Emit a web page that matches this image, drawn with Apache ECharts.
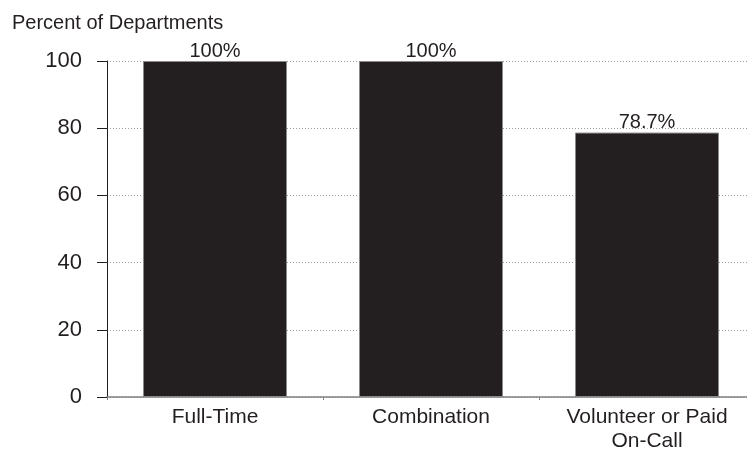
<!DOCTYPE html>
<html>
<head>
<meta charset="utf-8">
<script src="https://cdn.jsdelivr.net/npm/echarts@6/dist/echarts.min.js"></script>
<style>
  html, body { margin: 0; padding: 0; background: #fff; overflow: hidden; }
  #frame { width: 747px; height: 453px; overflow: hidden; }
  /* the plot runs a little past the right edge of the visible frame */
  #chart { width: 755px; height: 453px; }
</style>
</head>
<body>
<div id="frame"><div id="chart"></div></div>
<script>
// Share of departments by department type
const categories = ['Full-Time', 'Combination', 'Volunteer or Paid\nOn-Call'];
const percentValues = [100, 100, 78.7];
const yTicks = [0, 20, 40, 60, 80, 100];

const textColor = '#231f20';
const fontFamily = 'Liberation Sans, Arial, sans-serif';

const chart = echarts.init(document.getElementById('chart'), null, { renderer: 'canvas' });

chart.setOption({
  animation: false,
  backgroundColor: '#ffffff',
  title: {
    text: 'Percent of Departments',
    left: 7,
    top: 8,
    textStyle: { fontFamily, fontSize: 20, fontWeight: 'normal', color: textColor }
  },
  grid: { left: 107, top: 61, right: 0, bottom: 56, containLabel: false },
  xAxis: {
    type: 'category',
    data: categories,
    axisLine: { show: true, lineStyle: { color: '#808080', width: 1.5 } },
    axisTick: { show: true, alignWithLabel: false, length: 3, lineStyle: { color: '#808080' } },
    axisLabel: {
      fontFamily, fontSize: 21, color: textColor, margin: 8, lineHeight: 24, interval: 0
    },
    splitLine: { show: false }
  },
  yAxis: {
    type: 'value',
    min: yTicks[0],
    max: yTicks[yTicks.length - 1],
    interval: yTicks[1] - yTicks[0],
    axisLine: { show: true, lineStyle: { color: '#231f20', width: 1 } },
    axisTick: { show: true, length: 10, lineStyle: { color: '#231f20' } },
    axisLabel: { fontFamily, fontSize: 22, color: textColor, margin: 25 },
    splitLine: { show: true, lineStyle: { color: '#9a9a9a', type: [1, 2], width: 1 } }
  },
  series: [{
    type: 'bar',
    data: percentValues,
    barWidth: 144,
    itemStyle: { color: '#231f20', borderColor: '#8a8a8a', borderWidth: 1 },
    label: {
      show: true,
      position: 'top',
      distance: 0,
      fontFamily, fontSize: 20, color: textColor,
      formatter: p => p.value + '%'
    }
  }]
});
</script>
</body>
</html>
